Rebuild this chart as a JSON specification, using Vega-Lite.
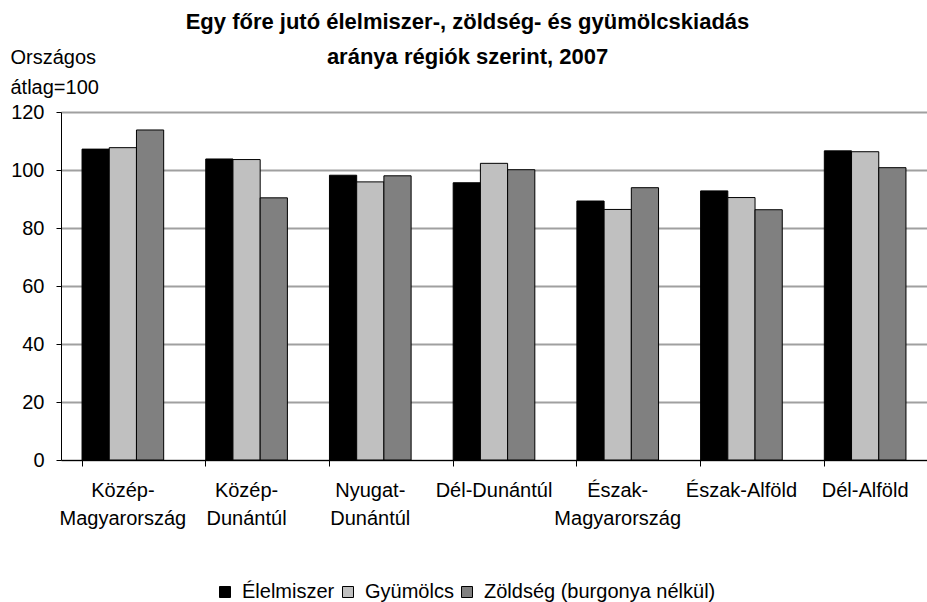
{
  "$schema": "https://vega.github.io/schema/vega-lite/v6.json",
  "width": 866,
  "height": 348,
  "autosize": {"type": "none"},
  "padding": {"left": 61, "top": 112, "right": 0, "bottom": 142},
  "background": "white",
  "config": {
    "font": "Liberation Sans",
    "view": {"stroke": null},
    "axis": {"labelFont": "Liberation Sans", "titleFont": "Liberation Sans", "labelColor": "black", "titleColor": "black"},
    "legend": {"labelFont": "Liberation Sans"}
  },
  "data": {
    "values": [
      {"region": "Közép-Magyarország", "kind": "Élelmiszer", "value": 107.2},
      {"region": "Közép-Magyarország", "kind": "Gyümölcs", "value": 107.7},
      {"region": "Közép-Magyarország", "kind": "Zöldség (burgonya nélkül)", "value": 113.8},
      {"region": "Közép-Dunántúl", "kind": "Élelmiszer", "value": 103.8},
      {"region": "Közép-Dunántúl", "kind": "Gyümölcs", "value": 103.6},
      {"region": "Közép-Dunántúl", "kind": "Zöldség (burgonya nélkül)", "value": 90.4},
      {"region": "Nyugat-Dunántúl", "kind": "Élelmiszer", "value": 98.2},
      {"region": "Nyugat-Dunántúl", "kind": "Gyümölcs", "value": 95.9},
      {"region": "Nyugat-Dunántúl", "kind": "Zöldség (burgonya nélkül)", "value": 98.0},
      {"region": "Dél-Dunántúl", "kind": "Élelmiszer", "value": 95.6},
      {"region": "Dél-Dunántúl", "kind": "Gyümölcs", "value": 102.3},
      {"region": "Dél-Dunántúl", "kind": "Zöldség (burgonya nélkül)", "value": 100.1},
      {"region": "Észak-Magyarország", "kind": "Élelmiszer", "value": 89.3},
      {"region": "Észak-Magyarország", "kind": "Gyümölcs", "value": 86.4},
      {"region": "Észak-Magyarország", "kind": "Zöldség (burgonya nélkül)", "value": 93.9},
      {"region": "Észak-Alföld", "kind": "Élelmiszer", "value": 92.8},
      {"region": "Észak-Alföld", "kind": "Gyümölcs", "value": 90.5},
      {"region": "Észak-Alföld", "kind": "Zöldség (burgonya nélkül)", "value": 86.3},
      {"region": "Dél-Alföld", "kind": "Élelmiszer", "value": 106.6},
      {"region": "Dél-Alföld", "kind": "Gyümölcs", "value": 106.3},
      {"region": "Dél-Alföld", "kind": "Zöldség (burgonya nélkül)", "value": 100.8}
    ]
  },
  "resolve": {"axis": {"x": "independent"}},
  "layer": [
    {
      "mark": {"type": "bar", "stroke": "black", "strokeWidth": 1},
      "encoding": {
        "x": {
          "field": "region",
          "type": "nominal",
          "sort": ["Közép-Magyarország", "Közép-Dunántúl", "Nyugat-Dunántúl", "Dél-Dunántúl", "Észak-Magyarország", "Észak-Alföld", "Dél-Alföld"],
          "scale": {"paddingInner": 0.34, "paddingOuter": 0.17},
          "axis": {
            "orient": "bottom",
            "title": null,
            "labelAngle": 0,
            "labelFontSize": 20,
            "labelLineHeight": 28,
            "labelPadding": 30,
            "labelBaseline": "middle",
            "ticks": false,
            "domain": true,
            "domainColor": "black",
            "domainWidth": 1,
            "labelExpr": "indexof(['Közép-Magyarország','Közép-Dunántúl','Nyugat-Dunántúl','Észak-Magyarország'], datum.value) >= 0 ? [split(datum.value,'-')[0] + '-', split(datum.value,'-')[1]] : datum.value"
          }
        },
        "xOffset": {
          "field": "kind",
          "type": "nominal",
          "sort": ["Élelmiszer", "Gyümölcs", "Zöldség (burgonya nélkül)"],
          "scale": {"paddingInner": 0, "paddingOuter": 0}
        },
        "y": {
          "field": "value",
          "type": "quantitative",
          "scale": {"domain": [0, 120], "nice": false},
          "axis": {
            "values": [0, 20, 40, 60, 80, 100, 120],
            "title": ["Országos", "átlag=100"],
            "titleAngle": 0,
            "titleAlign": "left",
            "titleBaseline": "alphabetic",
            "titleX": -51,
            "titleY": -49,
            "titleFontSize": 20,
            "titleFontWeight": "normal",
            "titleLineHeight": 30,
            "labelFontSize": 20,
            "labelPadding": 12,
            "tickSize": 5,
            "tickColor": "black",
            "domainColor": "black",
            "domainWidth": 1,
            "grid": true,
            "gridColor": "#a0a0a0",
            "gridWidth": 2
          }
        },
        "fill": {
          "field": "kind",
          "type": "nominal",
          "sort": ["Élelmiszer", "Gyümölcs", "Zöldség (burgonya nélkül)"],
          "scale": {"range": ["#000000", "#c0c0c0", "#808080"]},
          "legend": {
            "title": null,
            "orient": "none",
            "direction": "horizontal",
            "legendX": 154,
            "legendY": 470,
            "symbolType": "square",
            "symbolSize": 121,
            "symbolStrokeColor": "black",
            "symbolStrokeWidth": 1,
            "labelFontSize": 20,
            "labelColor": "black",
            "labelOffset": 7,
            "labelLimit": 400,
            "columnPadding": 3
          }
        }
      }
    },
    {
      "mark": {"type": "bar", "opacity": 0},
      "encoding": {
        "x": {
          "field": "region",
          "type": "nominal",
          "sort": ["Közép-Magyarország", "Közép-Dunántúl", "Nyugat-Dunántúl", "Dél-Dunántúl", "Észak-Magyarország", "Észak-Alföld", "Dél-Alföld"],
          "axis": {
            "orient": "bottom",
            "title": null,
            "labels": false,
            "domain": false,
            "ticks": true,
            "tickSize": 6,
            "tickColor": "black",
            "bandPosition": 0
          }
        },
        "y": {"field": "value", "type": "quantitative"}
      }
    },
    {
      "mark": {"type": "bar", "opacity": 0},
      "encoding": {
        "x": {
          "field": "region",
          "type": "nominal",
          "sort": ["Közép-Magyarország", "Közép-Dunántúl", "Nyugat-Dunántúl", "Dél-Dunántúl", "Észak-Magyarország", "Észak-Alföld", "Dél-Alföld"],
          "axis": {
            "orient": "top",
            "title": ["Egy főre jutó élelmiszer-, zöldség- és gyümölcskiadás", "aránya régiók szerint, 2007"],
            "titleFontSize": 22,
            "titleFontWeight": "bold",
            "titleLineHeight": 35,
            "titleAlign": "center",
            "titleBaseline": "alphabetic",
            "titleAnchor": null,
            "titleX": 406,
            "titleY": -84,
            "labels": false,
            "domain": false,
            "ticks": false,
            "grid": false
          }
        },
        "y": {"field": "value", "type": "quantitative"}
      }
    }
  ]
}
